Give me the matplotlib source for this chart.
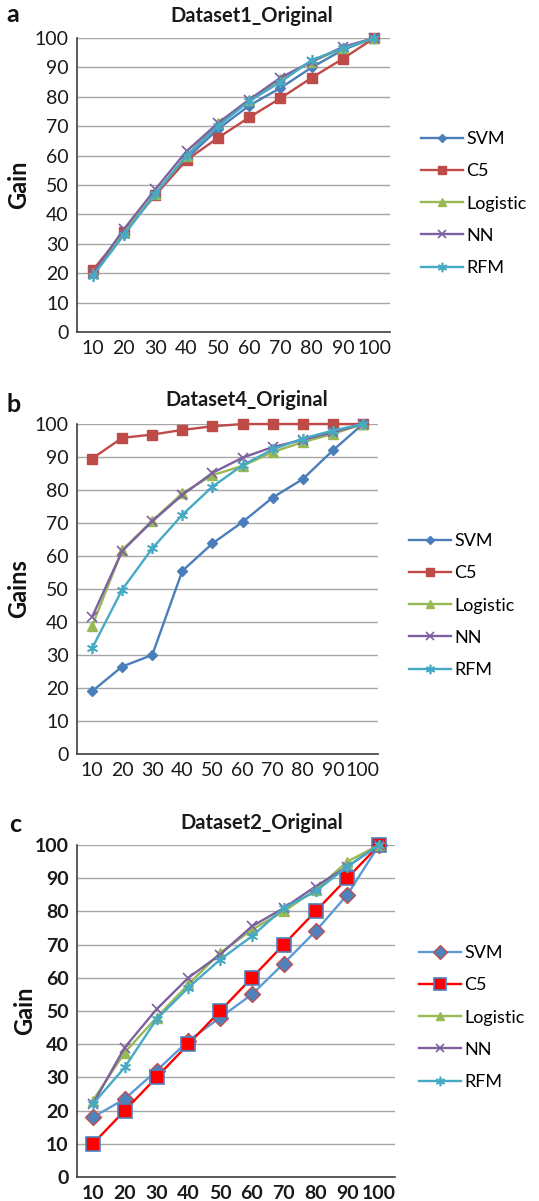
import matplotlib
matplotlib.use("Agg")
import matplotlib.pyplot as plt

plt.rcParams['font.family'] = ['Lato', 'DejaVu Sans']

x_labels = ['10', '20', '30', '40', '50', '60', '70', '80', '90', '100']
models = ['SVM', 'C5', 'Logistic', 'NN', 'RFM']

# Panel a: Dataset1_Original
a_svm = [20, 33.5, 47, 59, 69, 77, 83, 90, 96, 100]
a_c5 = [21, 34, 46.5, 58.5, 66, 73, 79.5, 86.5, 93, 100]
a_log = [20, 34, 47, 60, 71, 79, 86, 92, 96.5, 100]
a_nn = [20, 35, 48.5, 61.5, 71, 79, 86.5, 92, 97, 100]
a_rfm = [19, 33, 47, 60, 70, 78.5, 85, 92.5, 96.5, 100]

# Panel b: Dataset4_Original
b_svm = [19, 26.5, 30, 55.5, 63.8, 70.3, 77.7, 83.3, 92, 100]
b_c5 = [89.5, 95.8, 96.8, 98.2, 99.3, 100, 100, 100, 100, 100]
b_log = [38.7, 61.8, 70.7, 79, 84.5, 87.3, 91.5, 94.5, 97, 100]
b_nn = [41.5, 61.5, 70.5, 78.5, 85.2, 89.8, 93, 95.2, 97.5, 100]
b_rfm = [32, 49.8, 62.3, 72.5, 81, 87.5, 92.3, 95.6, 98, 100]

# Panel c: Dataset2_Original
c_svm = [18, 23.5, 32, 41, 48, 55, 64.3, 74, 85, 100]
c_c5 = [10, 20, 30, 40, 50, 60, 70, 80, 90, 100]
c_log = [23, 37.5, 48, 58, 67.5, 74.5, 80, 86.5, 95, 100]
c_nn = [22, 39, 50.5, 60, 67, 75.5, 81, 87.5, 93.5, 100]
c_rfm = [22, 33, 47.5, 57, 65.5, 72.5, 81, 86, 93.5, 100]

W, H = 539, 1201
fig = plt.figure(figsize=(W / 100, H / 100), dpi=100)

def fx(px):
    return px / W

def fy(py):
    return 1 - py / H

base_styles = [
    dict(color='#4A7EBB', marker='D', ms=5, mfc='#4A7EBB', mec='#4A7EBB'),
    dict(color='#BE4B48', marker='s', ms=7, mfc='#BE4B48', mec='#BE4B48'),
    dict(color='#98B954', marker='^', ms=7, mfc='#98B954', mec='#98B954'),
    dict(color='#7D60A0', marker='x', ms=7, mfc='#7D60A0', mec='#7D60A0', mew=1.2),
    dict(color='#46AAC5', marker=(6, 2, 0), ms=8, mfc='#46AAC5', mec='#46AAC5', mew=1.2),
]
c_styles = [
    dict(color='#5B9BD5', marker='D', ms=8, mfc='#4F81BD', mec='#C0504D', mew=1.0),
    dict(color='#FF0000', marker='s', ms=10, mfc='#FF0000', mec='#4F81BD', mew=1.2),
    dict(color='#98B954', marker='^', ms=7, mfc='#98B954', mec='#98B954'),
    dict(color='#7D60A0', marker='x', ms=7, mfc='#7D60A0', mec='#7D60A0', mew=1.2),
    dict(color='#46AAC5', marker=(6, 2, 0), ms=8, mfc='#46AAC5', mec='#46AAC5', mew=1.2),
]

panels = [
    dict(letter='a', title='Dataset1_Original', ylabel='Gain',
         data=[a_svm, a_c5, a_log, a_nn, a_rfm], styles=base_styles,
         box=(77, 390, 38, 332), title_xy=(252, 16), letter_xy=(6, 15),
         ylab_x=19, leg=(421, 143), bold_ticks=False),
    dict(letter='b', title='Dataset4_Original', ylabel='Gains',
         data=[b_svm, b_c5, b_log, b_nn, b_rfm], styles=base_styles,
         box=(77, 378, 424, 754), title_xy=(247, 400), letter_xy=(6, 405),
         ylab_x=19, leg=(409, 545), bold_ticks=False),
    dict(letter='c', title='Dataset2_Original', ylabel='Gain',
         data=[c_svm, c_c5, c_log, c_nn, c_rfm], styles=c_styles,
         box=(77, 395, 845, 1177), title_xy=(262, 823), letter_xy=(9, 825),
         ylab_x=25, leg=(419, 957), bold_ticks=True),
]

for p in panels:
    l, r, t, b = p['box']
    ax = fig.add_axes([fx(l), fy(b), fx(r) - fx(l), fy(t) - fy(b)])
    xs = list(range(len(x_labels)))
    handles = []
    for vals, st, name in zip(p['data'], p['styles'], models):
        h, = ax.plot(xs, vals, lw=1.7, clip_on=False, zorder=3, label=name, **st)
        handles.append(h)
    ax.set_xlim(-0.5, len(x_labels) - 0.5)
    ax.set_ylim(0, 100)
    ax.set_yticks(range(0, 101, 10))
    ax.set_xticks(xs)
    ax.set_xticklabels(x_labels)
    ax.yaxis.grid(True, color='#A6A6A6', lw=1.0)
    ax.set_axisbelow(True)
    for s in ['top', 'right']:
        ax.spines[s].set_visible(False)
    for s in ['left', 'bottom']:
        ax.spines[s].set_color('#404040')
        ax.spines[s].set_linewidth(1.2)
    fw = 'bold' if p['bold_ticks'] else 'normal'
    ax.tick_params(axis='both', length=0, labelsize=14, colors='#1a1a1a', pad=6)
    for lab in ax.get_xticklabels() + ax.get_yticklabels():
        lab.set_fontweight(fw)
    fig.text(fx(p['title_xy'][0]), fy(p['title_xy'][1]), p['title'],
             ha='center', va='center', fontsize=14.5, fontweight='bold', color='#1a1a1a')
    fig.text(fx(p['letter_xy'][0]), fy(p['letter_xy'][1]), p['letter'],
             ha='left', va='center', fontsize=18, fontweight='bold', color='#111111')
    fig.text(fx(p['ylab_x']), (fy(t) + fy(b)) / 2, p['ylabel'], rotation=90,
             ha='center', va='center', fontsize=17, fontweight='bold', color='#111111')
    lx, ly = p['leg']
    fig.legend(handles=handles, loc='upper left',
               bbox_to_anchor=(fx(lx), fy(ly - 12)), frameon=False,
               fontsize=13, handlelength=2.3, handletextpad=0.2,
               labelspacing=0.9, borderpad=0, borderaxespad=0, markerscale=0.85)

fig.savefig('out.png', dpi=100)
